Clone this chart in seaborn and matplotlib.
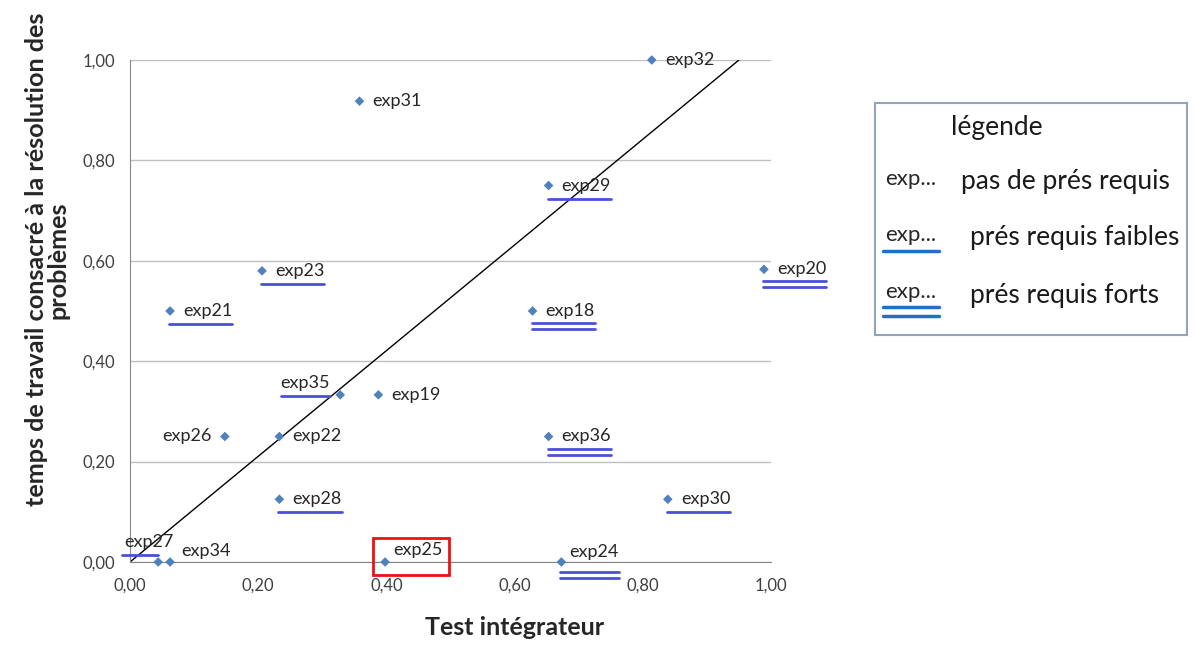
import numpy as np
import pandas as pd
import matplotlib
matplotlib.use('Agg')
import matplotlib.pyplot as plt
import seaborn as sns
from matplotlib.patches import Rectangle
from matplotlib.lines import Line2D
from matplotlib.transforms import IdentityTransform

# data
labels = ['exp32', 'exp31', 'exp29', 'exp23', 'exp20', 'exp21', 'exp18', 'exp35', 'exp19',
          'exp26', 'exp22', 'exp36', 'exp28', 'exp30', 'exp27', 'exp34', 'exp25', 'exp24']
test_integrateur = [0.814, 0.358, 0.653, 0.206, 0.989, 0.0625, 0.628, 0.328, 0.3875,
                    0.148, 0.233, 0.653, 0.233, 0.839, 0.044, 0.0625, 0.398, 0.673]
temps_travail = [1.0, 0.918, 0.75, 0.58, 0.583, 0.5, 0.5, 0.333, 0.333,
                 0.25, 0.25, 0.25, 0.125, 0.125, 0.0, 0.0, 0.0, 0.0]
# 0 = pas de prés requis, 1 = prés requis faibles, 2 = prés requis forts
prerequis = [0, 0, 1, 1, 2, 1, 2, 1, 0, 0, 0, 2, 1, 1, 1, 0, 0, 2]
trend_x = [0.0, 0.95]
trend_y = [0.0, 1.0]
ticks = [0.0, 0.2, 0.4, 0.6, 0.8, 1.0]
highlight = 'exp25'

legend_title = 'légende'
legend_items = ['pas de prés requis', 'prés requis faibles', 'prés requis forts']

df = pd.DataFrame({'x': test_integrateur, 'y': temps_travail, 'lab': labels, 'pre': prerequis})

# label placement in pixels (dx, dy up, ha)
place = {'exp35': (-10, 12, 'right'), 'exp26': (-13, 0, 'right'), 'exp27': (-34, 20, 'left'),
         'exp34': (11, 11, 'left'), 'exp25': (8, 12, 'left'), 'exp24': (8, 10, 'left')}
# underline gap below text centre, pixels
ul_gap = {'exp24': [20, 26]}

sns.set_style('white')
plt.rcParams['font.family'] = ['Lato', 'DejaVu Sans']

fig = plt.figure(figsize=(11.94, 6.46), dpi=100)
ax = fig.add_axes([130/1194, 84/646, 641/1194, 502/646])

sns.lineplot(x=trend_x, y=trend_y, color='black', lw=1, ax=ax, zorder=2)
sns.scatterplot(data=df, x='x', y='y', marker='D', s=24, color='#4f81bd', edgecolor='none',
                ax=ax, zorder=4, clip_on=False)

ax.set_xlim(0, 1)
ax.set_ylim(0, 1)
ax.set_xticks(ticks)
ax.set_yticks(ticks)
ax.set_xticklabels([f'{t:.2f}'.replace('.', ',') for t in ticks], fontsize=12, color='#404040')
ax.set_yticklabels([f'{t:.2f}'.replace('.', ',') for t in ticks], fontsize=12, color='#404040')
ax.tick_params(axis='both', direction='out', length=5, width=1, color='#868686', pad=6)
ax.yaxis.grid(True, color='#c0c0c0', lw=1)
ax.set_axisbelow(True)
for s in ['top', 'right']:
    ax.spines[s].set_visible(False)
for s in ['left', 'bottom']:
    ax.spines[s].set_color('#868686')

ax.set_xlabel('Test intégrateur', fontsize=18, fontweight='bold')
ax.xaxis.set_label_coords(0.60, -0.108)
ax.set_ylabel('temps de travail consacré à la résolution des\nproblèmes', fontsize=18.2,
              fontweight='bold', linespacing=0.95)
ax.yaxis.set_label_coords(-0.094, 0.602)

fig.canvas.draw()
renderer = fig.canvas.get_renderer()
ulcolor = '#4a50d8'
for _, r in df.iterrows():
    dx, dy, ha = place.get(r['lab'], (13, 0, 'left'))
    t = ax.annotate(r['lab'], (r['x'], r['y']), xytext=(dx, dy), textcoords='offset pixels',
                    ha=ha, va='center', fontsize=13, color='#262626', zorder=5)
    px, py = ax.transData.transform((r['x'], r['y']))
    bb = t.get_window_extent(renderer)
    cy = py + dy
    if r['pre'] > 0:
        if r['lab'] == 'exp27':
            x0, x1 = bb.x0 - 2, px
        elif ha == 'left':
            x0, x1 = px - 1, bb.x1
        else:
            x0, x1 = bb.x0, bb.x1
        offs = [13] if r['pre'] == 1 else [12, 18]
        offs = ul_gap.get(r['lab'], offs)
        for o in offs:
            fig.add_artist(Line2D([x0, x1], [cy - o, cy - o], color=ulcolor, lw=2,
                                  transform=IdentityTransform()))
    if r['lab'] == highlight:
        fig.add_artist(Rectangle((px - 12, py - 13), 76, 37, fill=False, ec='#ee1111', lw=2,
                                 transform=IdentityTransform()))

# legend box
lax = fig.add_axes([875/1194, (646-335)/646, 312/1194, 232/646])
lax.set_xlim(0, 312)
lax.set_ylim(232, 0)
lax.set_xticks([])
lax.set_yticks([])
for s in lax.spines.values():
    s.set_color('#95a3b8')
    s.set_linewidth(1.5)
lax.text(122, 25, legend_title, ha='center', va='center', fontsize=19, color='#1a1a1a')
rows_y = [79, 135, 192]
text_x = [86, 95, 95]
legcol = '#2070c8'
for i, (yy, item) in enumerate(zip(rows_y, legend_items)):
    lax.text(10, yy - 3, 'exp...', ha='left', va='center', fontsize=16, color='#262626')
    lax.text(text_x[i], yy, item, ha='left', va='center', fontsize=19, color='#1a1a1a')
    if i == 1:
        lax.plot([8, 64], [148, 148], color=legcol, lw=2.5)
    if i == 2:
        lax.plot([8, 64], [204, 204], color=legcol, lw=2.5)
        lax.plot([8, 64], [213, 213], color=legcol, lw=2.5)

plt.savefig('out.png', dpi=100)
